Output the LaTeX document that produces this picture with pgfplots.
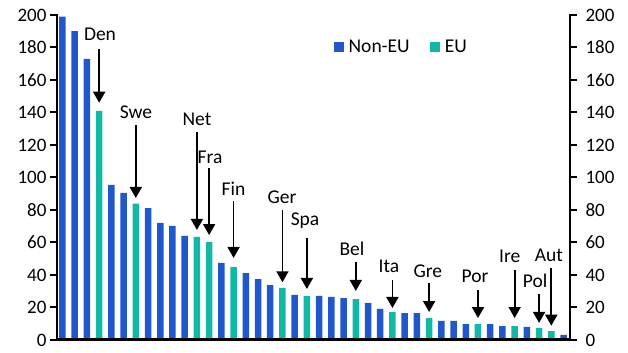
\documentclass[border=0pt]{standalone}
\usepackage{fontspec}
\setmainfont{Carlito}
\usepackage{pgfplots}
\pgfplotsset{compat=1.18}
\usetikzlibrary{arrows.meta}
\definecolor{nonEU}{RGB}{33,87,204}
\definecolor{EUc}{RGB}{18,184,166}
\begin{document}
\begin{tikzpicture}
\pgfplotsset{common/.style={
  scale only axis,
  width=513pt, height=325pt,
  xmin=0.55, xmax=42.53,
  ymin=0, ymax=200,
  ytick={0,20,...,200},
  xtick=\empty,
  tick align=outside,
  major tick length=7pt,
  every tick/.style={black, line width=2pt},
  axis line style={draw=none},
  /pgf/number format/assume math mode=true,
  ticklabel style={font=\fontsize{19}{22}\selectfont},
}}
\begin{axis}[common,
  ytick pos=left,
  ybar, bar width=6.5pt, bar shift=0pt,
  legend columns=2,
  legend style={draw=none, fill=none, at={(rel axis cs:0.533,0.902)}, anchor=west,
     font=\fontsize{19.5}{22}\selectfont, /tikz/every even column/.append style={column sep=18pt}},
  legend image code/.code={\fill[#1] (0pt,-5pt) rectangle (10pt,5pt); \path (0pt,0pt) -- (13pt,0pt);},
  clip=false,
]
\addplot[fill=nonEU, draw=none] coordinates {
(1,199) (2,190) (3,173) (5,95.4) (6,90.6) (8,81.2) (9,72) (10,70.3) (11,64)
(14,47.4) (16,41.2) (17,37.5) (18,33.8) (20,27.7) (22,27.1) (23,26.5) (24,25.8)
(26,22.8) (27,19.1) (29,16.6) (30,16.6) (32,11.7) (33,11.7) (34,9.8) (36,9.8)
(37,8.6) (39,8) (42,3.1)};
\addlegendentry{Non-EU}
\addplot[fill=EUc, draw=none] coordinates {
(4,141) (7,83.9) (12,63.4) (13,60.3) (15,44.9) (19,32) (21,27.1) (25,25.2)
(28,17.2) (31,13.5) (35,9.8) (38,8.6) (40,7.4) (41,5.5)};
\addlegendentry{EU}

\draw[line width=2pt] (rel axis cs:0,0) -- (rel axis cs:0,1.003);
\draw[line width=2pt] (rel axis cs:1,0) -- (rel axis cs:1,1.003);
\draw[line width=3pt] (rel axis cs:0,0) -- (rel axis cs:1,0);

\tikzset{ann/.style={line width=1.8pt, -{Triangle[width=12pt,length=11pt]}},
         lab/.style={anchor=base, font=\fontsize{19.5}{22}\selectfont, inner sep=0pt}}
\draw[ann] (axis cs:4,179) -- (axis cs:4,146);
\node[lab] at (axis cs:4.07,184.6) {Den};
\draw[ann] (axis cs:7,132) -- (axis cs:7,87.4);
\node[lab] at (axis cs:7.01,136.6) {Swe};
\draw[ann] (axis cs:12,128) -- (axis cs:12,67.7);
\node[lab] at (axis cs:12,131.7) {Net};
\draw[ann] (axis cs:13,106) -- (axis cs:13,64.6);
\node[lab] at (axis cs:13.07,108.9) {Fra};
\draw[ann] (axis cs:15,85.5) -- (axis cs:15,50.5);
\node[lab] at (axis cs:15,89.2) {Fin};
\draw[ann] (axis cs:19,80) -- (axis cs:19,35.5);
\node[lab] at (axis cs:18.96,84.3) {Ger};
\draw[ann] (axis cs:21,62.8) -- (axis cs:21,31.4);
\node[lab] at (axis cs:20.85,70.2) {Spa};
\draw[ann] (axis cs:25,48) -- (axis cs:25,30.2);
\node[lab] at (axis cs:24.69,52.3) {Bel};
\draw[ann] (axis cs:28,36.9) -- (axis cs:28,19.7);
\node[lab] at (axis cs:27.72,41.8) {Ita};
\draw[ann] (axis cs:31,35) -- (axis cs:31,17.2);
\node[lab] at (axis cs:30.9,38.2) {Gre};
\draw[ann] (axis cs:35,30.8) -- (axis cs:35,13.5);
\node[lab] at (axis cs:34.75,35.1) {Por};
\draw[ann] (axis cs:38,43) -- (axis cs:38,13.5);
\node[lab] at (axis cs:37.6,47.4) {Ire};
\draw[ann] (axis cs:40,28.3) -- (axis cs:40,10.5);
\node[lab] at (axis cs:39.67,32) {Pol};
\draw[ann] (axis cs:41,44.3) -- (axis cs:41,8.8);
\node[lab] at (axis cs:40.81,48) {Aut};
\end{axis}
\begin{axis}[common, ytick pos=right, yticklabel pos=right,
  yticklabel style={xshift=5pt}]
\end{axis}
\path ([shift={(-57pt,-13pt)}]current axis.south west) rectangle ([shift={(58pt,15pt)}]current axis.north east);
\end{tikzpicture}
\end{document}
